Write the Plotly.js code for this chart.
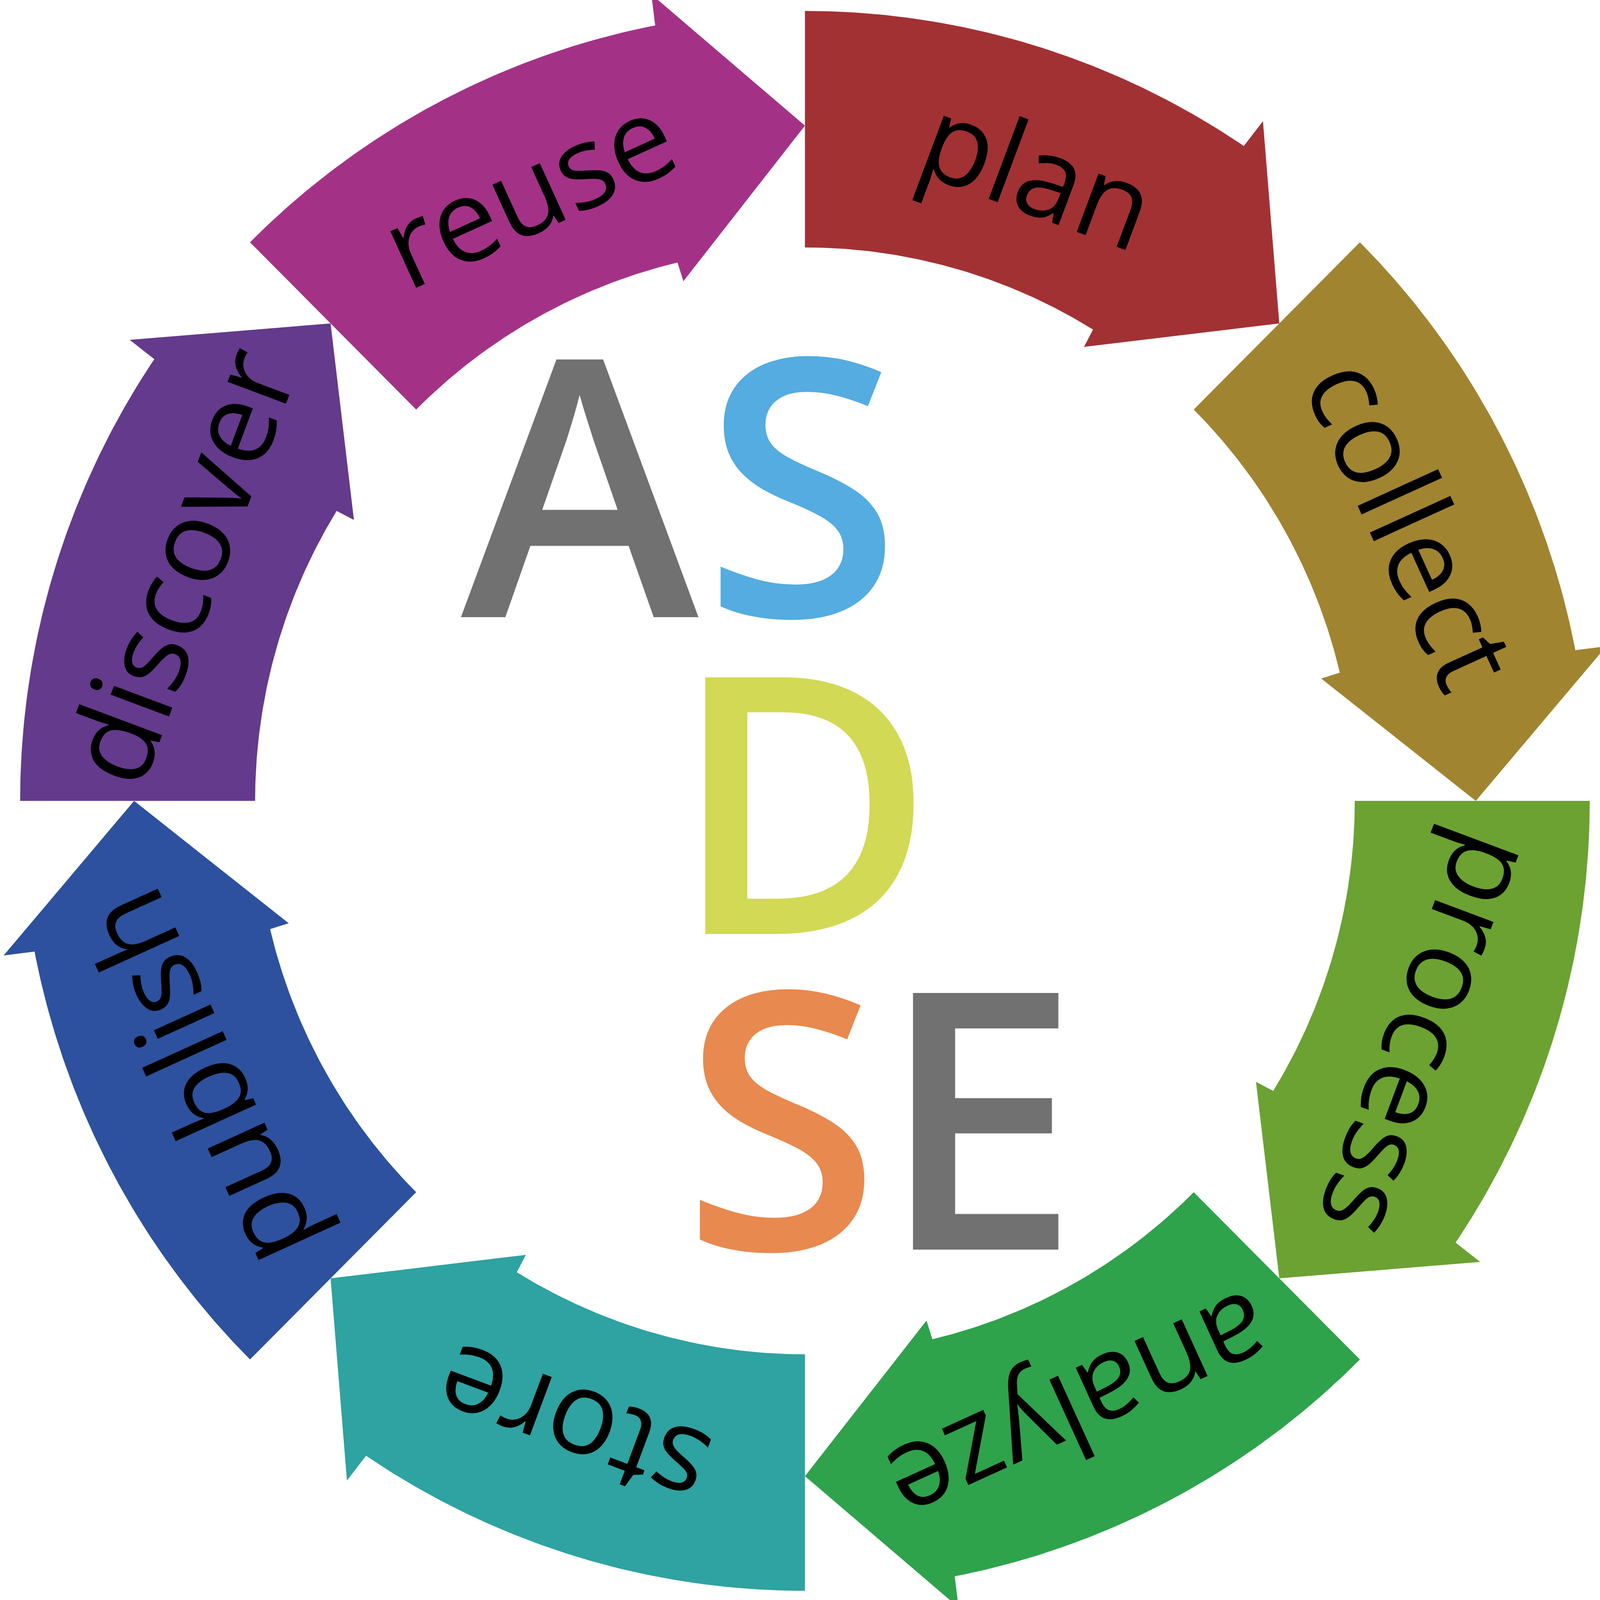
<!DOCTYPE html>
<html>
<head>
<meta charset="utf-8">
<script src="https://cdn.plot.ly/plotly-3.0.1.min.js"></script>
<style>html,body{margin:0;padding:0;background:#fff;overflow:hidden}</style>
</head>
<body>
<div id="chart"></div>
<script>
// stages of the cycle, clockwise from the top
var stages = ['plan', 'collect', 'process', 'analyze', 'store', 'publish', 'discover', 'reuse'];
var stageColors = ['#a23134', '#a18430', '#6ba231', '#2fa24c', '#2ea3a1', '#2d519e', '#643a8c', '#a33287'];
// letters in the middle
var centerLetters = ['A', 'S', 'D', 'S', 'E'];
var letterColors = ['#717171', '#54ace0', '#d2d955', '#e8894f', '#717171'];

// drawing units follow the reference picture, the page may be smaller
var W = 4528, H = 4539;
var pw = window.innerWidth || W, ph = window.innerHeight || H;
var k = Math.min(pw / W, ph / H);
var cx = 2278, cy = 2272;
var rOut = 2221, rIn = 1556;
var yStretch = 1.009; // ring is a little taller than wide
var step = 360 / stages.length;

function pt(r, deg) {
	var a = deg * Math.PI / 180;
	return [cx + r * Math.cos(a), cy - r * yStretch * Math.sin(a)];
}

// ring segment with an arrow head pointing clockwise
function arrowShape(start) {
	var xs = [], ys = [];
	function add(p) { xs.push(p[0]); ys.push(p[1]); }
	var outEnd = start - 34, inEnd = start - 31.6;
	for (var a = start; a > outEnd; a -= 0.5) add(pt(rOut, a));
	add(pt(rOut, outEnd));
	add(pt(rOut + 88, outEnd - 0.15));
	add(pt((rOut + rIn) / 2 + 10, start - step));
	add(pt(rIn - 55, inEnd - 0.15));
	add(pt(rIn, inEnd));
	for (var b = inEnd; b < start; b += 0.5) add(pt(rIn, b));
	add(pt(rIn, start));
	return {x: xs, y: ys};
}

var traces = [];
var annotations = [];
var labelOffset = 20.5, labelR = 1895;

stages.forEach(function(s, i) {
	var start = 90 - i * step;
	var shp = arrowShape(start);
	traces.push({
		type: 'scatter',
		mode: 'lines',
		x: shp.x,
		y: shp.y,
		fill: 'toself',
		fillcolor: stageColors[i],
		line: {width: 0, color: stageColors[i]},
		hoverinfo: 'skip',
		showlegend: false
	});
	var mid = start - labelOffset;
	var p = pt(labelR, mid);
	var ang = 90 - mid;
	while (ang > 180) ang -= 360;
	while (ang <= -180) ang += 360;
	annotations.push({
		x: p[0], y: p[1], xref: 'x', yref: 'y',
		text: s, showarrow: false, textangle: ang,
		xanchor: 'center', yanchor: 'middle',
		font: {family: 'Open Sans', size: 330 * k, color: '#000000'}
	});
});

// centre letters: AS / D / SE
var letterX = [1646, 2270, 2273, 2211, 2773];
var letterY = [1355, 1353, 2254, 3149, 3149];
centerLetters.forEach(function(l, i) {
	annotations.push({
		x: letterX[i], y: letterY[i], xref: 'x', yref: 'y',
		text: l, showarrow: false,
		xanchor: 'center', yanchor: 'middle',
		font: {family: 'Open Sans', size: 1020 * k, weight: 600, color: letterColors[i]}
	});
});

var layout = {
	width: pw,
	height: ph,
	margin: {l: 0, r: 0, t: 0, b: 0},
	paper_bgcolor: '#ffffff',
	plot_bgcolor: '#ffffff',
	xaxis: {range: [0, W], visible: false, fixedrange: true},
	yaxis: {range: [H, 0], visible: false, fixedrange: true},
	annotations: annotations,
	showlegend: false
};

Plotly.newPlot('chart', traces, layout, {staticPlot: true});
</script>
</body>
</html>
